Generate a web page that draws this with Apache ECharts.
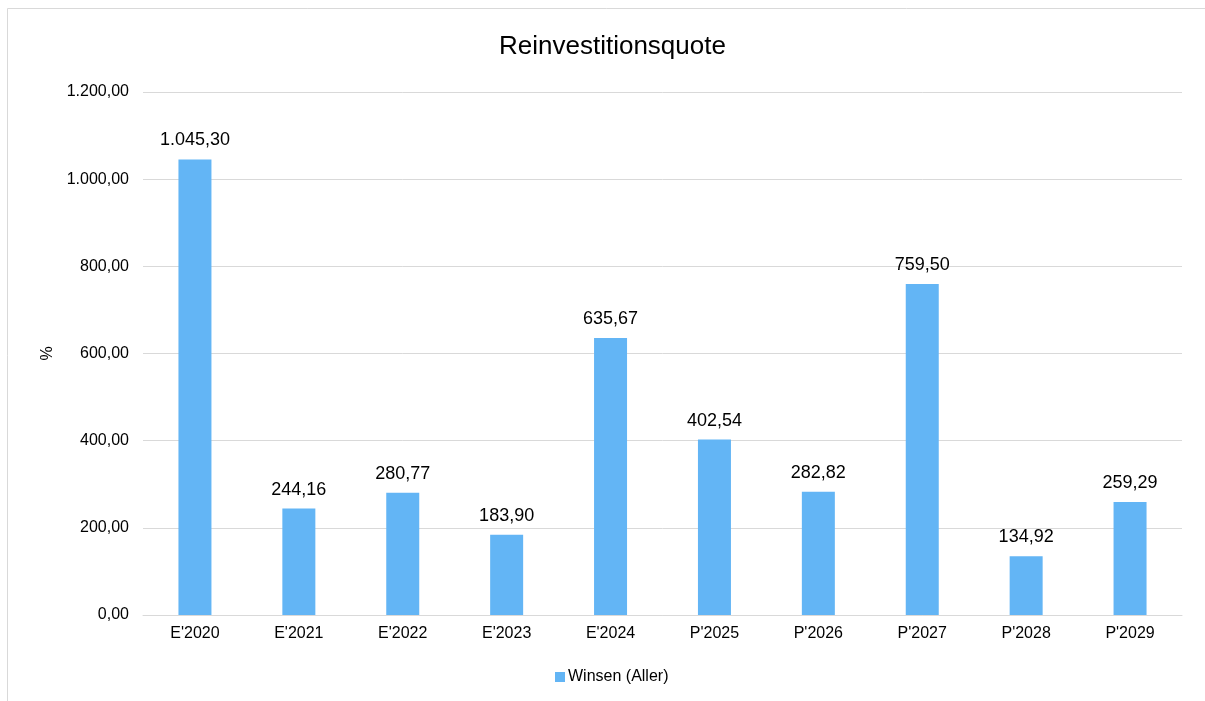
<!DOCTYPE html>
<html><head><meta charset="utf-8">
<script src="https://cdn.jsdelivr.net/npm/echarts@6/dist/echarts.min.js"></script>
<style>html,body{margin:0;padding:0;background:#fff}#c{width:1205px;height:701px}</style>
</head><body><div id="c"></div>
<script>
const categories = ["E'2020","E'2021","E'2022","E'2023","E'2024","P'2025","P'2026","P'2027","P'2028","P'2029"];
const values = [1045.30, 244.16, 280.77, 183.90, 635.67, 402.54, 282.82, 759.50, 134.92, 259.29];
const seriesName = "Winsen (Aller)";
const titleText = "Reinvestitionsquote";
const yAxisName = "%";

function fmt(v){
  const s = v.toFixed(2).split('.');
  const i = s[0].replace(/\B(?=(\d{3})+(?!\d))/g, '.');
  return i + ',' + s[1];
}
const font = "'Liberation Sans', Arial, sans-serif";
const chart = echarts.init(document.getElementById('c'), null, {renderer:'canvas'});
chart.setOption({
  animation:false,
  backgroundColor:'#fff',
  graphic:[{type:'rect',shape:{x:7.5,y:8.5,width:1300,height:800},style:{fill:'none',stroke:'#d9d9d9',lineWidth:1},silent:true}],
  title:{text:titleText,left:494,top:29,textStyle:{fontFamily:font,fontSize:26,fontWeight:'normal',color:'#000'}},
  grid:{left:143,right:23,top:92,bottom:86,containLabel:false},
  legend:{bottom:11,left:550,itemWidth:10,itemHeight:10,itemGap:3,icon:'rect',
    textStyle:{fontFamily:font,fontSize:16,color:'#000',padding:[0,0,0,-2]},data:[seriesName]},
  xAxis:{type:'category',data:categories,
    axisLine:{lineStyle:{color:'#d9d9d9',width:1}},axisTick:{show:false},
    axisLabel:{fontFamily:font,fontSize:16,color:'#000',margin:11}},
  yAxis:{type:'value',min:0,max:1200,interval:200,name:yAxisName,nameLocation:'middle',nameGap:76,
    nameRotate:90,nameTextStyle:{fontFamily:font,fontSize:16,color:'#000'},
    axisLine:{show:false},axisTick:{show:false},
    splitLine:{lineStyle:{color:'#d9d9d9',width:1}},
    axisLabel:{fontFamily:font,fontSize:16,color:'#000',margin:14,formatter:v=>fmt(v)}},
  series:[{name:seriesName,type:'bar',data:values,barWidth:33,
    itemStyle:{color:'#63b5f5'},
    label:{show:true,position:'top',distance:10,fontFamily:font,fontSize:18,color:'#000',formatter:p=>fmt(p.value)}}]
});
</script></body></html>
